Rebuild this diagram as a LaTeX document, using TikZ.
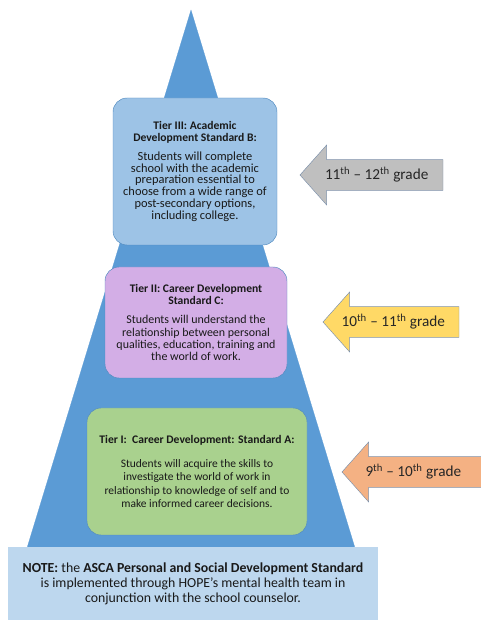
\documentclass[tikz,border=0pt]{standalone}
\usepackage{fontspec}
\setmainfont{Carlito}
\usepackage{tkz-euclide}
\definecolor{pyramid}{HTML}{5B9BD5}
\definecolor{tierthree}{HTML}{9DC3E6}
\definecolor{tiertwo}{HTML}{D3AEE6}
\definecolor{tierone}{HTML}{A9D18E}
\definecolor{notefill}{HTML}{BDD7EE}
\definecolor{gradegray}{HTML}{BFBFBF}
\definecolor{gradeyellow}{HTML}{FFD966}
\definecolor{gradeorange}{HTML}{F4B183}
\definecolor{arrowline}{HTML}{7F93AD}
\newcommand{\tierhead}[1]{\textbf{\fontsize{9.9}{10}\selectfont #1}}

\begin{document}
\begin{tikzpicture}[
    tier/.style={rounded corners=12pt, draw=pyramid!90!black, thin, align=center,
        inner sep=3pt, text=black!90},
    gradearrow/.style={draw=arrowline, thin},
    gradetext/.style={text=black!85, font=\fontsize{13}{15}\selectfont}]
    \useasboundingbox (0,0) rectangle (14.4,18.6);
    \tkzDefPoints{5.73/18.3/A, 0.7/1.8/B, 10.76/1.8/C}
    \tkzDrawPolygon[fill=pyramid, draw=pyramid](A,B,C)
    \node[tier, fill=tierthree, minimum width=4.92cm, minimum height=4.41cm,
        font=\fontsize{10.6}{10.2}\selectfont] (tierIII) at (5.85,13.455)
        {\tierhead{Tier III: Academic}\\ \tierhead{Development Standard B:}\\[6pt]
         Students will complete\\ school with the academic\\ preparation essential to\\
         choose from a wide range of\\ post-secondary options,\\ including college.};
    \node[tier, fill=tiertwo, minimum width=5.46cm, minimum height=3.33cm,
        font=\fontsize{10.2}{10.4}\selectfont] (tierII) at (5.88,8.925)
        {\tierhead{Tier II: Career Development}\\ \tierhead{Standard C:}\\[6pt]
         Students will understand the\\ relationship between personal\\
         qualities, education, training and\\ the world of work.};
    \node[tier, fill=tierone, minimum width=6.6cm, minimum height=3.81cm,
        font=\fontsize{9.8}{11.4}\selectfont] (tierI) at (5.91,4.455)
        {\tierhead{Tier I:\ \ Career Development: Standard A:}\\[9pt]
         Students will acquire the skills to\\ investigate the world of work in\\
         relationship to knowledge of self and to\\ make informed career decisions.};
    \node[fill=notefill, align=center, minimum width=11.1cm, minimum height=2.19cm, text=black!90,
        font=\fontsize{11.8}{12.8}\selectfont] (note) at (5.79,1.095)
        {\textbf{NOTE:} the \textbf{ASCA Personal and Social Development Standard}\\
         is implemented through HOPE’s mental health team in\\
         conjunction with the school counselor.};
    \foreach \tx/\ty/\ex/\lx/\col/\lab [count=\i] in {
        9.0/13.35/13.29/11.3/gradegray/{11\textsuperscript{th} – 12\textsuperscript{th} grade},
        9.69/8.94/13.77/11.8/gradeyellow/{10\textsuperscript{th} – 11\textsuperscript{th} grade},
        10.26/4.44/14.6/12.4/gradeorange/{9\textsuperscript{th} – 10\textsuperscript{th} grade}}{
        \draw[gradearrow, fill=\col] (\tx,\ty) -- ({\tx+0.8},{\ty+0.9}) -- ({\tx+0.8},{\ty+0.46})
            -- (\ex,{\ty+0.46}) -- (\ex,{\ty-0.46}) -- ({\tx+0.8},{\ty-0.46})
            -- ({\tx+0.8},{\ty-0.9}) -- cycle;
        \node[gradetext] (grade\i) at (\lx,\ty) {\lab};
    }
\end{tikzpicture}
\end{document}
